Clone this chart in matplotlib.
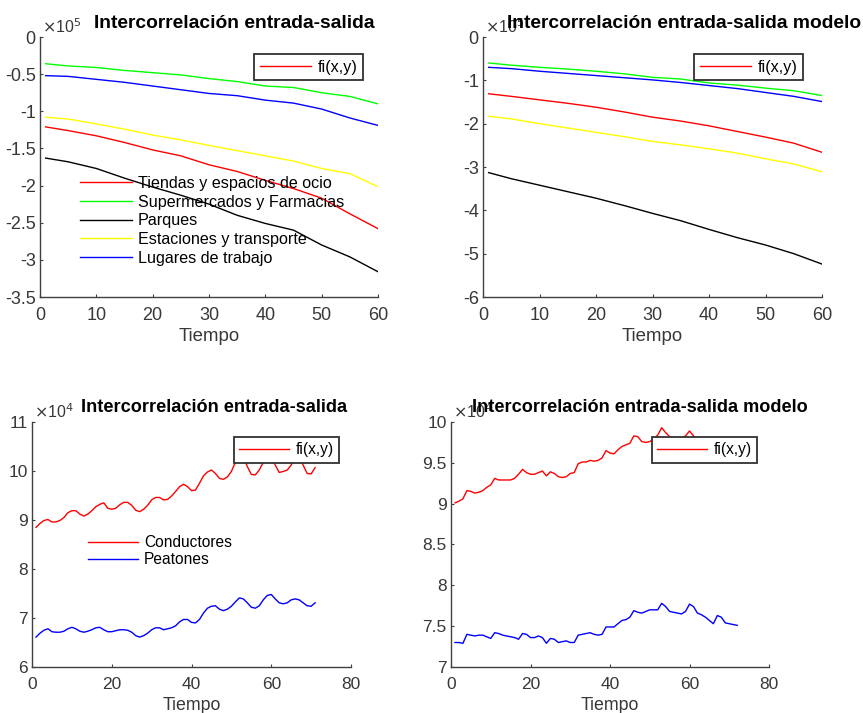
import numpy as np
import matplotlib.pyplot as plt
from matplotlib.lines import Line2D
from matplotlib.ticker import FuncFormatter

plt.rcParams['font.family'] = ['Liberation Sans', 'DejaVu Sans']
plt.rcParams['axes.unicode_minus'] = False

# Tiempo (muestras) para las curvas de movilidad
t_mov = np.array([1, 5, 10, 15, 20, 25, 30, 35, 40, 45, 50, 55, 60])

# Intercorrelación entrada-salida (x10^5)
tiendas = [-1.21, -1.26, -1.33, -1.42, -1.52, -1.60, -1.72, -1.81, -1.93, -2.04, -2.17, -2.38, -2.58]
super_farm = [-0.36, -0.39, -0.41, -0.45, -0.48, -0.51, -0.56, -0.60, -0.66, -0.68, -0.75, -0.80, -0.90]
parques = [-1.63, -1.68, -1.77, -1.90, -2.02, -2.13, -2.25, -2.40, -2.51, -2.60, -2.80, -2.96, -3.16]
estaciones = [-1.08, -1.105, -1.17, -1.24, -1.32, -1.385, -1.46, -1.53, -1.60, -1.67, -1.77, -1.84, -2.015]
trabajo = [-0.52, -0.53, -0.57, -0.61, -0.66, -0.71, -0.76, -0.79, -0.85, -0.89, -0.97, -1.09, -1.19]

# Intercorrelación entrada-salida del modelo (x10^5)
tiendas_m = [-1.31, -1.37, -1.45, -1.53, -1.62, -1.73, -1.85, -1.94, -2.05, -2.18, -2.31, -2.45, -2.66]
super_farm_m = [-0.60, -0.65, -0.70, -0.74, -0.79, -0.85, -0.93, -0.97, -1.06, -1.11, -1.18, -1.24, -1.35]
parques_m = [-3.13, -3.27, -3.42, -3.57, -3.72, -3.89, -4.07, -4.24, -4.44, -4.63, -4.80, -5.00, -5.24]
estaciones_m = [-1.83, -1.89, -2.00, -2.10, -2.20, -2.30, -2.41, -2.49, -2.58, -2.68, -2.81, -2.93, -3.11]
trabajo_m = [-0.70, -0.73, -0.79, -0.84, -0.89, -0.94, -0.99, -1.05, -1.12, -1.19, -1.28, -1.37, -1.49]

# Conductores / peatones (x10^4)
t_cond = np.arange(1, 72)
conductores = [8.85, 8.93, 8.99, 9.01, 8.96, 8.96, 8.99, 9.05, 9.15, 9.19,
               9.19, 9.12, 9.08, 9.12, 9.19, 9.27, 9.32, 9.35, 9.24, 9.22,
               9.24, 9.31, 9.36, 9.36, 9.30, 9.20, 9.17, 9.22, 9.30, 9.41,
               9.46, 9.46, 9.41, 9.42, 9.49, 9.58, 9.68, 9.73, 9.68, 9.60,
               9.61, 9.75, 9.90, 9.98, 10.02, 9.95, 9.85, 9.83, 9.88, 9.99,
               10.18, 10.32, 10.30, 10.09, 9.93, 9.92, 10.02, 10.18, 10.32, 10.30,
               10.12, 9.97, 9.99, 10.02, 10.12, 10.30, 10.28, 10.12, 9.95, 9.94,
               10.07]
peatones = [6.61, 6.69, 6.75, 6.78, 6.72, 6.71, 6.71, 6.73, 6.78, 6.81,
            6.78, 6.73, 6.71, 6.73, 6.76, 6.80, 6.81, 6.76, 6.72, 6.72,
            6.74, 6.76, 6.76, 6.75, 6.71, 6.64, 6.61, 6.64, 6.69, 6.76,
            6.80, 6.80, 6.76, 6.78, 6.80, 6.84, 6.92, 6.97, 6.97, 6.91,
            6.90, 6.97, 7.10, 7.20, 7.24, 7.25, 7.18, 7.15, 7.18, 7.24,
            7.33, 7.41, 7.39, 7.31, 7.22, 7.20, 7.25, 7.37, 7.46, 7.48,
            7.39, 7.31, 7.29, 7.31, 7.37, 7.39, 7.37, 7.31, 7.25, 7.24,
            7.31]

t_mod = np.arange(1, 73)
conductores_m = [9.01, 9.03, 9.06, 9.16, 9.15, 9.13, 9.14, 9.16, 9.20, 9.23,
                 9.31, 9.29, 9.29, 9.29, 9.29, 9.31, 9.36, 9.42, 9.38, 9.36,
                 9.36, 9.38, 9.40, 9.34, 9.39, 9.37, 9.33, 9.32, 9.33, 9.37,
                 9.38, 9.49, 9.51, 9.51, 9.53, 9.52, 9.53, 9.56, 9.65, 9.62,
                 9.61, 9.66, 9.70, 9.72, 9.74, 9.83, 9.82, 9.76, 9.75, 9.76,
                 9.79, 9.84, 9.93, 9.87, 9.82, 9.80, 9.78, 9.80, 9.83, 9.89,
                 9.83, 9.78, 9.76, 9.74, 9.73, 9.71, 9.74, 9.72, 9.70, 9.69,
                 9.70, 9.68]
peatones_m = [7.30, 7.30, 7.29, 7.40, 7.39, 7.38, 7.39, 7.39, 7.37, 7.35,
              7.42, 7.41, 7.39, 7.38, 7.37, 7.36, 7.34, 7.41, 7.40, 7.36,
              7.36, 7.38, 7.36, 7.29, 7.35, 7.34, 7.30, 7.31, 7.32, 7.30,
              7.30, 7.39, 7.40, 7.41, 7.42, 7.40, 7.39, 7.40, 7.49, 7.49,
              7.49, 7.53, 7.57, 7.58, 7.61, 7.69, 7.67, 7.66, 7.68, 7.70,
              7.70, 7.70, 7.78, 7.74, 7.68, 7.67, 7.66, 7.65, 7.68, 7.77,
              7.74, 7.66, 7.64, 7.61, 7.57, 7.53, 7.63, 7.61, 7.54, 7.53,
              7.52, 7.51]

mov_labels = ['Tiendas y espacios de ocio', 'Supermercados y Farmacias', 'Parques',
              'Estaciones y transporte', 'Lugares de trabajo']
mov_colors = ['#ff0000', '#00ff00', '#000000', '#ffff00', '#0000ff']
cond_labels = ['Conductores', 'Peatones']
cond_colors = ['#ff0000', '#0000ff']

W, H = 863, 713
fig = plt.figure(figsize=(W / 100, H / 100), dpi=100)
fig.patch.set_facecolor('white')

AX_COL = '#404040'
TXT_COL = '#383838'


def make_axes(left, top, right, bottom, tick_fs, pad_x):
    ax = fig.add_axes([left / W, 1 - bottom / H, (right - left) / W, (bottom - top) / H])
    ax.spines['top'].set_visible(False)
    ax.spines['right'].set_visible(False)
    for s in ('left', 'bottom'):
        ax.spines[s].set_color(AX_COL)
        ax.spines[s].set_linewidth(1.0)
    ax.tick_params(direction='in', length=2.5, width=0.8, color=AX_COL,
                   labelsize=tick_fs, labelcolor=TXT_COL)
    ax.tick_params(axis='x', pad=pad_x)
    ax.tick_params(axis='y', pad=3)
    ax.yaxis.set_major_formatter(FuncFormatter(lambda v, p: '%g' % round(v, 3)))
    ax.xaxis.set_major_formatter(FuncFormatter(lambda v, p: '%g' % v))
    ax.set_facecolor('white')
    return ax


def add_legends(lines, labels, fi_pos, leg_pos, fs, spacing):
    # recuadro de fi(x,y) con la línea roja
    fi_line = Line2D([], [], color='#ff0000', lw=1.0)
    fi = fig.legend([fi_line], ['fi(x,y)'], loc='upper left',
                    bbox_to_anchor=(fi_pos[0] / W, 1 - fi_pos[1] / H),
                    fontsize=fs, frameon=True, fancybox=False, framealpha=1,
                    borderaxespad=0, handlelength=3.2, handletextpad=0.4,
                    borderpad=0.35)
    fi.get_frame().set_edgecolor('#303030')
    fi.get_frame().set_linewidth(1.3)
    fi.set_zorder(5)
    if labels is not None:
        lg = fig.legend(lines, labels, loc='upper left',
                        bbox_to_anchor=(leg_pos[0] / W, 1 - leg_pos[1] / H),
                        fontsize=fs, frameon=False, borderaxespad=0, borderpad=0,
                        handlelength=3.2, handletextpad=0.4, labelspacing=spacing)
        lg.set_zorder(6)


# --- arriba izquierda
ax1 = make_axes(40, 37, 378, 297, 13, 7)
series = [tiendas, super_farm, parques, estaciones, trabajo]
l1 = [ax1.plot(t_mov, s, color=c, lw=1.0)[0] for s, c in zip(series, mov_colors)]
ax1.set_xlim(0, 60)
ax1.set_ylim(-3.5, 0)
ax1.set_xticks(range(0, 61, 10))
ax1.set_yticks(np.arange(-3.5, 0.01, 0.5))
ax1.set_xlabel('Tiempo', fontsize=13.4, color=TXT_COL, labelpad=3)
add_legends(l1, mov_labels, (254, 54), (80, 176), 11.6, 0.23)

# --- arriba derecha
ax2 = make_axes(483, 37, 822, 297, 13, 7)
series_m = [tiendas_m, super_farm_m, parques_m, estaciones_m, trabajo_m]
l2 = [ax2.plot(t_mov, s, color=c, lw=1.0)[0] for s, c in zip(series_m, mov_colors)]
ax2.set_xlim(0, 60)
ax2.set_ylim(-6, 0)
ax2.set_xticks(range(0, 61, 10))
ax2.set_yticks(range(-6, 1))
ax2.set_xlabel('Tiempo', fontsize=13.4, color=TXT_COL, labelpad=3)
add_legends(l2, None, (694, 54), None, 11.6, 0.23)

# --- abajo izquierda
ax3 = make_axes(32, 422, 351, 667, 12.5, 7)
l3 = [ax3.plot(t_cond, conductores, color=cond_colors[0], lw=1.0)[0],
      ax3.plot(t_cond, peatones, color=cond_colors[1], lw=1.0)[0]]
ax3.set_xlim(0, 80)
ax3.set_ylim(6, 11)
ax3.set_xticks(range(0, 81, 20))
ax3.set_yticks(range(6, 12))
ax3.set_xlabel('Tiempo', fontsize=12.8, color=TXT_COL, labelpad=4)
add_legends(l3, cond_labels, (234, 437), (88, 535), 11.2, 0.16)

# --- abajo derecha
ax4 = make_axes(451, 422, 769, 667, 12.5, 7)
l4 = [ax4.plot(t_mod, conductores_m, color=cond_colors[0], lw=1.0)[0],
      ax4.plot(t_mod, peatones_m, color=cond_colors[1], lw=1.0)[0]]
ax4.set_xlim(0, 80)
ax4.set_ylim(7, 10)
ax4.set_xticks(range(0, 81, 20))
ax4.set_yticks(np.arange(7, 10.01, 0.5))
ax4.set_xlabel('Tiempo', fontsize=12.8, color=TXT_COL, labelpad=4)
add_legends(l4, None, (652, 437), None, 11.2, 0.16)

# factores de escala en la esquina de cada eje
for x0, y0, e in [(42, 33, 5), (485, 33, 5), (34, 418, 4), (453, 418, 4)]:
    fig.text(x0 / W, 1 - y0 / H, r'$\times$10$^{%d}$' % e, fontsize=11.5,
             color=TXT_COL, ha='left', va='baseline')

# títulos
for xc, yc, fs, txt in [(234, 23, 13.9, 'Intercorrelación entrada-salida'),
                        (684, 23, 13.9, 'Intercorrelación entrada-salida modelo'),
                        (214, 408, 13.1, 'Intercorrelación entrada-salida'),
                        (640, 408, 13.1, 'Intercorrelación entrada-salida modelo')]:
    fig.text(xc / W, 1 - yc / H, txt, fontsize=fs, fontweight='bold',
             ha='center', va='center', color='black')

fig.savefig('out.png', dpi=100)
